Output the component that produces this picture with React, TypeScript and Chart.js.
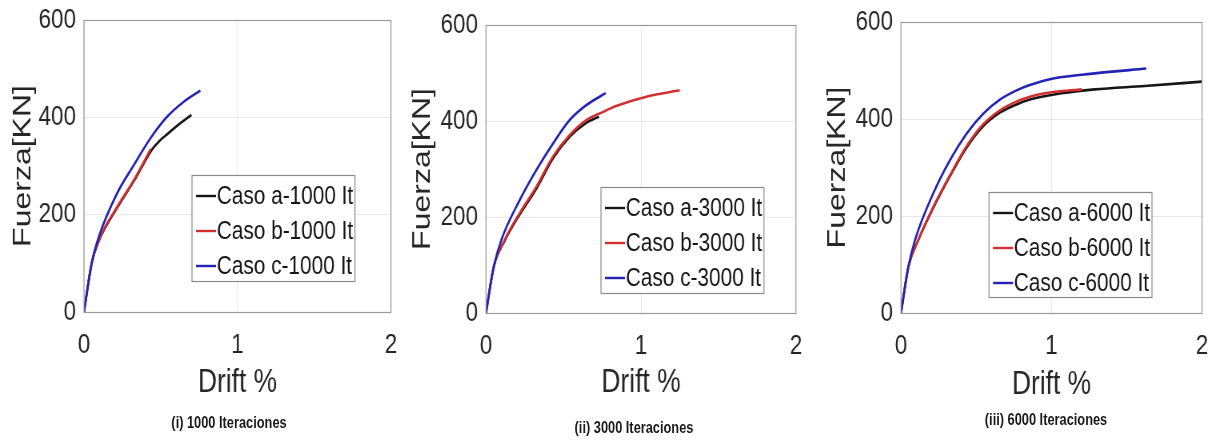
import React, { useEffect, useRef } from "react";
import { Chart, registerables } from "chart.js";

Chart.register(...registerables);

const FONT = '"Liberation Sans", Arial, Helvetica, sans-serif';
// the whole figure is horizontally compressed (like the source image)
const SQUISH = 0.8;

// ---------- data ----------
const xTickValues = [0, 1, 2];
const yTickValues = [0, 200, 400, 600];

const yTitle = "Fuerza[KN]";
const xTitle = "Drift %";

// (i) 1000 iteraciones
const drift1a = [0, 0.05, 0.097, 0.216, 0.325, 0.444, 0.49, 0.541, 0.628, 0.7];
const force1a = [0, 100, 146, 214, 269, 334, 351, 365, 388, 405];
const drift1b = [0, 0.05, 0.097, 0.216, 0.325, 0.435];
const force1b = [0, 100, 148, 216, 271, 335];
const drift1c = [0, 0.05, 0.097, 0.216, 0.325, 0.433, 0.541, 0.65, 0.758];
const force1c = [0, 100, 155, 244, 302, 357, 401, 432, 455];

// (ii) 3000 iteraciones
const drift2a = [0, 0.05, 0.12, 0.217, 0.325, 0.432, 0.54, 0.647, 0.729];
const force2a = [0, 96, 150, 205, 259, 322, 367, 396, 409];
const drift2b = [0, 0.05, 0.12, 0.217, 0.325, 0.432, 0.54, 0.647, 0.755, 0.84, 1.04, 1.25];
const force2b = [0, 96, 152, 208, 263, 326, 371, 402, 419, 431, 451, 464];
const drift2c = [0, 0.05, 0.099, 0.217, 0.325, 0.432, 0.54, 0.647, 0.772];
const force2c = [0, 96, 152, 235, 298, 353, 402, 433, 458];

// (iii) 6000 iteraciones
const drift3a = [0, 0.049, 0.115, 0.215, 0.325, 0.436, 0.546, 0.657, 0.768, 0.856, 1.066, 1.287, 1.62, 2.0];
const force3a = [0, 95, 150, 217, 282, 341, 385, 413, 430, 440, 453, 461, 468, 477];
const drift3b = [0, 0.049, 0.115, 0.215, 0.325, 0.436, 0.546, 0.657, 0.768, 0.856, 1.0, 1.2];
const force3b = [0, 95, 151, 219, 284, 344, 389, 418, 436, 446, 455, 461];
const drift3c = [0, 0.049, 0.093, 0.215, 0.325, 0.436, 0.546, 0.657, 0.768, 0.856, 1.02, 1.287, 1.63];
const force3c = [0, 95, 150, 247, 315, 370, 411, 440, 459, 470, 484, 494, 504];

const labels1 = ["Caso a-1000 It", "Caso b-1000 It", "Caso c-1000 It"];
const labels2 = ["Caso a-3000 It", "Caso b-3000 It", "Caso c-3000 It"];
const labels3 = ["Caso a-6000 It", "Caso b-6000 It", "Caso c-6000 It"];

const captions = ["(i) 1000 Iteraciones", "(ii) 3000 Iteraciones", "(iii) 6000 Iteraciones"];

const seriesColors = ["#161616", "#d42f2f", "#2222b4"];

// ---------- layout / styles (page pixels, relative to panel left) ----------
type PanelLayout = {
  canvasLeft: number;
  width: number;
  area: { left: number; right: number; top: number; bottom: number };
  yTitleCenter: number;
  xTitleCenter: number;
  legend: { left: number; top: number; w: number; h: number };
  caption: { x: number; y: number };
};

const panelLayouts: PanelLayout[] = [
  {
    canvasLeft: 0,
    width: 405,
    area: { left: 84, right: 391, top: 20, bottom: 312 },
    yTitleCenter: 23,
    xTitleCenter: 383,
    legend: { left: 192, top: 175, w: 163, h: 106 },
    caption: { x: 229, y: 423 },
  },
  {
    canvasLeft: 405,
    width: 405,
    area: { left: 81, right: 391, top: 25, bottom: 313 },
    yTitleCenter: 18,
    xTitleCenter: 383,
    legend: { left: 196, top: 187, w: 163, h: 106 },
    caption: { x: 229, y: 428 },
  },
  {
    canvasLeft: 812,
    width: 407,
    area: { left: 89, right: 390, top: 22, bottom: 313 },
    yTitleCenter: 26,
    xTitleCenter: 385,
    legend: { left: 177, top: 192, w: 163, h: 105 },
    caption: { x: 234, y: 420 },
  },
];

const panelData = [
  { labels: labels1, series: [[drift1a, force1a], [drift1b, force1b], [drift1c, force1c]] },
  { labels: labels2, series: [[drift2a, force2a], [drift2b, force2b], [drift2c, force2c]] },
  { labels: labels3, series: [[drift3a, force3a], [drift3b, force3b], [drift3c, force3c]] },
];

const toPoints = (xs: number[], ys: number[]) => xs.map((x, i) => ({ x, y: ys[i] }));

function makeBoxLegendPlugin(layout: PanelLayout) {
  return {
    id: "boxLegend",
    afterDraw(chart: any) {
      const ctx = chart.ctx as CanvasRenderingContext2D;
      const a = chart.chartArea;
      ctx.save();
      // axes box
      ctx.strokeStyle = "#9a9a9a";
      ctx.lineWidth = 1.2;
      ctx.strokeRect(a.left, Math.round(a.top) + 0.5, a.right - a.left, Math.round(a.bottom - a.top));
      // legend box
      const L = layout.legend;
      const lx = L.left / SQUISH;
      const lw = L.w / SQUISH;
      ctx.fillStyle = "#ffffff";
      ctx.fillRect(lx, L.top, lw, L.h);
      ctx.strokeStyle = "#8a8a8a";
      ctx.lineWidth = 1.2;
      ctx.strokeRect(lx, L.top + 0.5, lw, L.h);
      ctx.font = `26px ${FONT}`;
      ctx.textBaseline = "middle";
      ctx.textAlign = "left";
      chart.data.datasets.forEach((ds: any, i: number) => {
        const y = L.top + 21 + i * 35;
        ctx.strokeStyle = ds.borderColor;
        ctx.lineWidth = 2.4;
        ctx.beginPath();
        ctx.moveTo(lx + 5, y);
        ctx.lineTo(lx + 30, y);
        ctx.stroke();
        ctx.fillStyle = "#141414";
        ctx.fillText(ds.label, lx + 31, y + 1);
      });
      ctx.restore();
    },
  };
}

function Panel({ index }: { index: number }) {
  const ref = useRef<HTMLCanvasElement | null>(null);
  const layout = panelLayouts[index];
  const pd = panelData[index];
  const localWidth = Math.round(layout.width / SQUISH);

  useEffect(() => {
    if (!ref.current) return;
    const datasets = pd.series.map(([xs, ys], i) => ({
      label: pd.labels[i],
      data: toPoints(xs, ys),
      borderColor: seriesColors[i],
      backgroundColor: seriesColors[i],
      borderWidth: 2.6,
      pointRadius: 0,
      fill: false,
      cubicInterpolationMode: "monotone" as const,
      order: 3 - i,
    }));
    const a = layout.area;
    const chart = new Chart(ref.current, {
      type: "line",
      data: { datasets },
      options: {
        animation: false,
        responsive: false,
        devicePixelRatio: 1,
        layout: {
          padding: { left: 0, top: a.top, right: localWidth - a.right / SQUISH, bottom: 0 },
        },
        plugins: {
          legend: { display: false },
          title: { display: false },
          tooltip: { enabled: false },
        },
        scales: {
          x: {
            type: "linear",
            min: 0,
            max: 2,
            afterBuildTicks: (s: any) => {
              s.ticks = xTickValues.map((v) => ({ value: v }));
            },
            afterFit: (s: any) => {
              s.height = 440 - a.bottom;
              s.paddingLeft = 0;
              s.paddingRight = 0;
            },
            grid: { color: "#e8e8e8", drawTicks: false, lineWidth: 1 },
            border: { display: false },
            ticks: {
              padding: 16,
              color: "#262626",
              font: { family: FONT, size: 28 },
              maxRotation: 0,
            },
            title: {
              display: true,
              text: xTitle,
              color: "#262626",
              font: { family: FONT, size: 33, lineHeight: 1 },
              padding: { top: 0, bottom: 440 - layout.xTitleCenter - 16.5 },
            },
          },
          y: {
            type: "linear",
            min: 0,
            max: 600,
            afterBuildTicks: (s: any) => {
              s.ticks = yTickValues.map((v) => ({ value: v }));
            },
            afterFit: (s: any) => {
              s.width = a.left / SQUISH;
              s.paddingTop = 0;
              s.paddingBottom = 0;
            },
            grid: { color: "#e8e8e8", drawTicks: false, lineWidth: 1 },
            border: { display: false },
            ticks: {
              padding: 10,
              color: "#262626",
              font: { family: FONT, size: 28 },
            },
            title: {
              display: true,
              text: yTitle,
              color: "#262626",
              font: { family: FONT, size: 32, lineHeight: 1 },
              padding: { top: layout.yTitleCenter / SQUISH - 16, bottom: 0 },
            },
          },
        },
      },
      plugins: [makeBoxLegendPlugin(layout)],
    });
    return () => chart.destroy();
  }, [index]);

  return (
    <div
      style={{
        position: "absolute",
        left: layout.canvasLeft,
        top: 0,
        width: localWidth,
        height: 440,
        transform: `scaleX(${SQUISH})`,
        transformOrigin: "0 0",
      }}
    >
      <canvas
        ref={ref}
        width={localWidth}
        height={440}
        style={{ display: "block", width: localWidth, height: 440 }}
      />
      <div
        style={{
          position: "absolute",
          left: layout.caption.x / SQUISH,
          top: layout.caption.y - 9,
          transform: "translateX(-50%)",
          fontFamily: FONT,
          fontWeight: "bold",
          fontSize: 16,
          lineHeight: "18px",
          color: "#1a1a1a",
          whiteSpace: "nowrap",
        }}
      >
        {captions[index]}
      </div>
    </div>
  );
}

export default function App() {
  return (
    <div
      style={{
        position: "absolute",
        left: 0,
        top: 0,
        width: 1219,
        height: 440,
        background: "#ffffff",
        overflow: "hidden",
      }}
    >
      {panelLayouts.map((_, i) => (
        <Panel key={i} index={i} />
      ))}
    </div>
  );
}
